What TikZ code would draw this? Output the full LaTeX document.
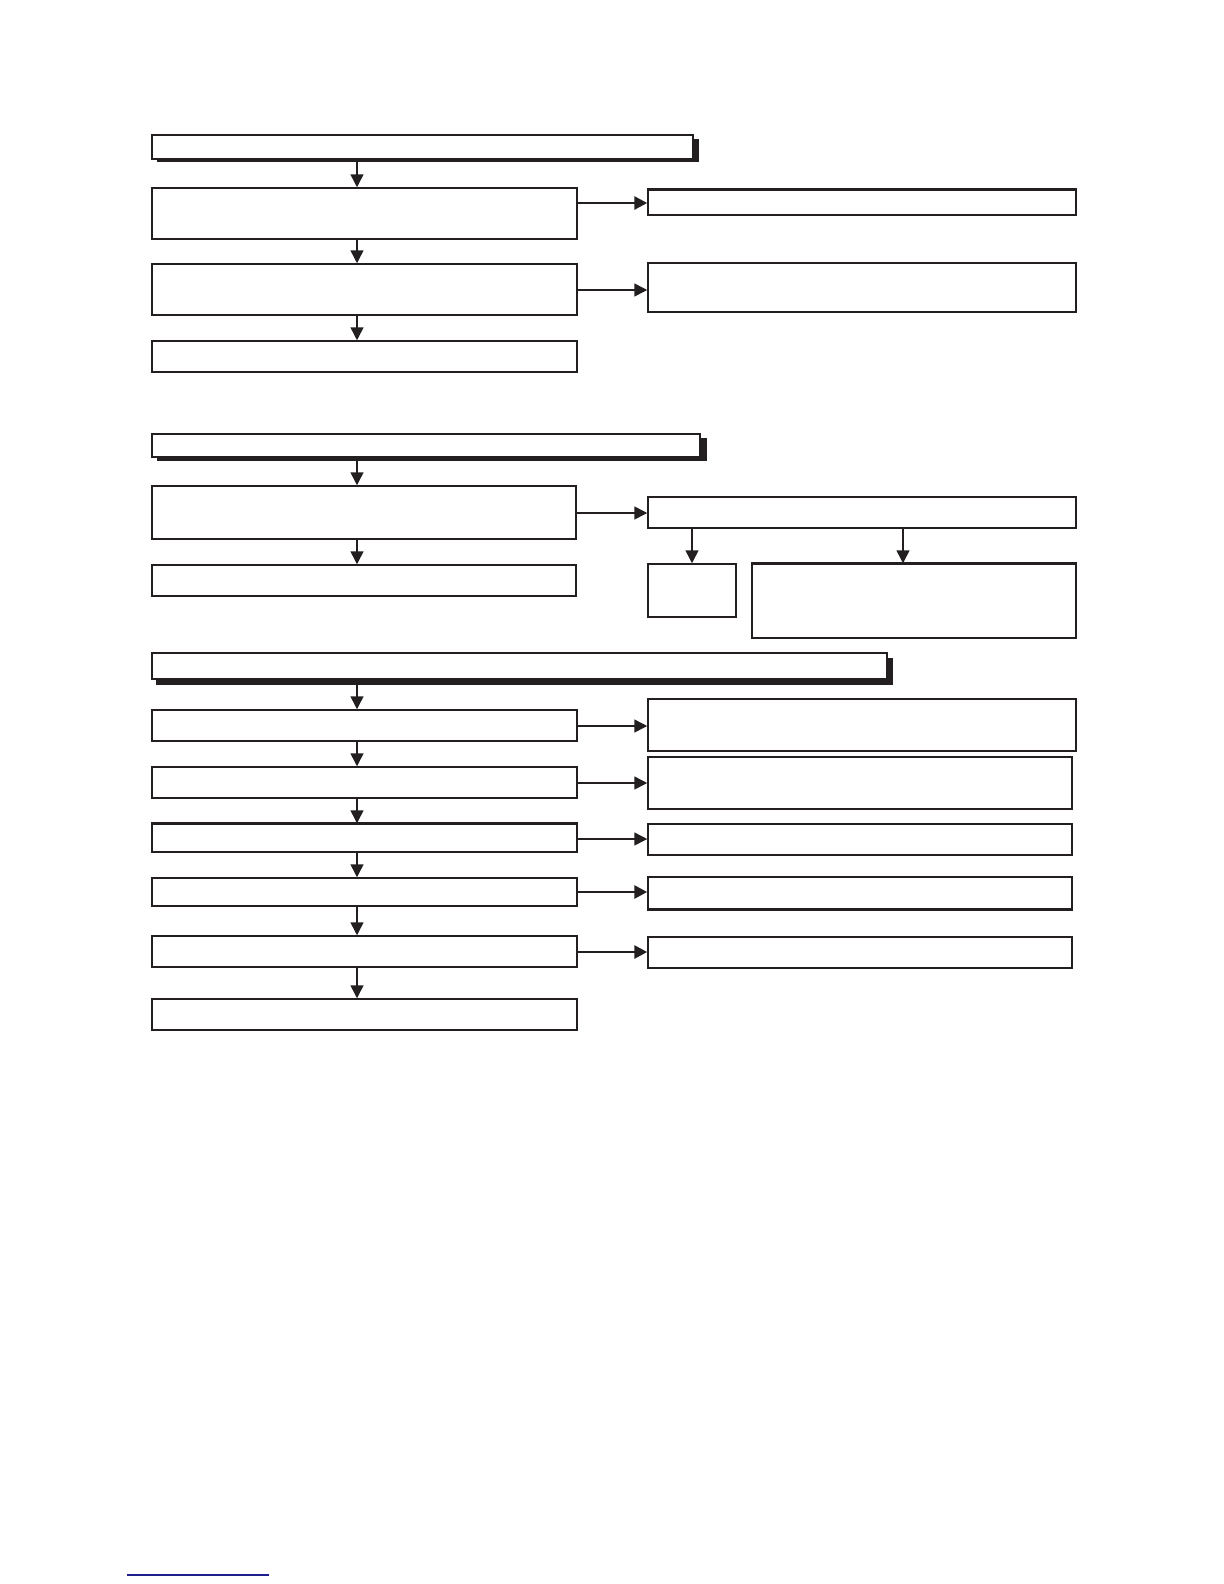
\documentclass[tikz,border=0pt]{standalone}
\usetikzlibrary{arrows.meta,fit,shadows}
\definecolor{ink}{RGB}{35,31,32}
\definecolor{rule}{RGB}{30,30,140}
\begin{document}
\begin{tikzpicture}[x=0.5pt,y=-0.5pt,
  box/.style={draw=ink,line width=0.75pt,fill=white,inner sep=0pt,minimum size=0pt,rectangle},
  hdr/.style={box},
  arr/.style={draw=ink,line width=0.75pt,-{Triangle[length=6.5pt,width=6.5pt]}},
  tarr/.style={draw=ink,line width=1.4pt,-{Triangle[length=6.5pt,width=6.5pt]}},
  thickedge/.style={draw=ink,line width=1.4pt},
  shad/.style={fill=ink}]
\useasboundingbox[fill=white] (0,0) rectangle (1224,1584);

% ---- section 1 ----
\fill[shad] (157,139) rectangle (699,162);
\node[hdr,fit={(152,135)(693,159)}] (h1) {};
\node[box,fit={(152,188)(577,239)}] (A) {};
\node[box,fit={(648,190)(1076,215)}] (R1) {};
\node[box,fit={(152,264)(577,315)}] (B) {};
\node[box,fit={(648,263)(1076,312)}] (R2) {};
\node[box,fit={(152,341)(577,372)}] (C) {};

% ---- section 2 ----
\fill[shad] (157,438) rectangle (707,461);
\node[hdr,fit={(152,434)(700,457)}] (h2) {};
\node[box,fit={(152,486)(576,539)}] (D) {};
\node[box,fit={(648,497)(1076,528)}] (R3) {};
\node[box,fit={(152,565)(576,596)}] (E) {};
\node[box,fit={(648,564)(736,617)}] (F) {};
\node[box,fit={(752,564)(1076,638)}] (G) {};

% ---- section 3 ----
\fill[shad] (156,658) rectangle (893,685);
\node[hdr,fit={(152,653)(887,679)}] (h3) {};
\node[box,fit={(152,710)(577,741)}] (K1) {};
\node[box,fit={(152,767)(577,798)}] (K2) {};
\node[box,fit={(152,824)(577,852)}] (K3) {};
\node[box,fit={(152,878)(577,906)}] (K4) {};
\node[box,fit={(152,936)(577,967)}] (K5) {};
\node[box,fit={(152,999)(577,1030)}] (K6) {};
\node[box,fit={(648,699)(1076,751)}] (S1) {};
\node[box,fit={(648,757)(1072,809)}] (S2) {};
\node[box,fit={(648,824)(1072,855)}] (S3) {};
\node[box,fit={(648,877)(1072,909)}] (S4) {};
\node[box,fit={(648,937)(1072,968)}] (S5) {};

% thicker edges
\draw[thickedge] (R1.north west) -- (R1.north east);
\draw[thickedge] (G.north west) -- (G.north east);
\draw[thickedge] (K3.north west) -- (K3.north east);
\draw[thickedge] (S4.south west) -- (S4.south east);

% guide coordinates
\coordinate (xa) at (357,0);
\coordinate (xf) at (692,0);
\coordinate (xg) at (903,0);
\coordinate (y1) at (0,203);
\coordinate (y2) at (0,290);
\coordinate (y3) at (0,513);
\coordinate (y4) at (0,726);
\coordinate (y5) at (0,783);
\coordinate (y6) at (0,839);
\coordinate (y7) at (0,892);
\coordinate (y8) at (0,952);

% vertical arrows
\draw[arr] (h1.south -| xa) -- (A.north -| xa);
\draw[arr] (A.south -| xa) -- (B.north -| xa);
\draw[arr] (B.south -| xa) -- (C.north -| xa);
\draw[arr] (h2.south -| xa) -- (D.north -| xa);
\draw[arr] (D.south -| xa) -- (E.north -| xa);
\draw[arr] (R3.south -| xf) -- (F.north -| xf);
\draw[arr] (R3.south -| xg) -- (G.north -| xg);
\draw[arr] (h3.south -| xa) -- (K1.north -| xa);
\draw[arr] (K1.south -| xa) -- (K2.north -| xa);
\draw[arr] (K2.south -| xa) -- (K3.north -| xa);
\draw[arr] (K3.south -| xa) -- (K4.north -| xa);
\draw[arr] (K4.south -| xa) -- (K5.north -| xa);
\draw[arr] (K5.south -| xa) -- (K6.north -| xa);

% horizontal arrows
\draw[tarr] (A.east |- y1) -- (R1.west |- y1);
\draw[arr] (B.east |- y2) -- (R2.west |- y2);
\draw[arr] (D.east |- y3) -- (R3.west |- y3);
\draw[arr] (K1.east |- y4) -- (S1.west |- y4);
\draw[arr] (K2.east |- y5) -- (S2.west |- y5);
\draw[arr] (K3.east |- y6) -- (S3.west |- y6);
\draw[tarr] (K4.east |- y7) -- (S4.west |- y7);
\draw[tarr] (K5.east |- y8) -- (S5.west |- y8);

% footer rule
\draw[rule,line width=0.8pt] (127,1575) -- (269,1575);
\end{tikzpicture}
\end{document}
